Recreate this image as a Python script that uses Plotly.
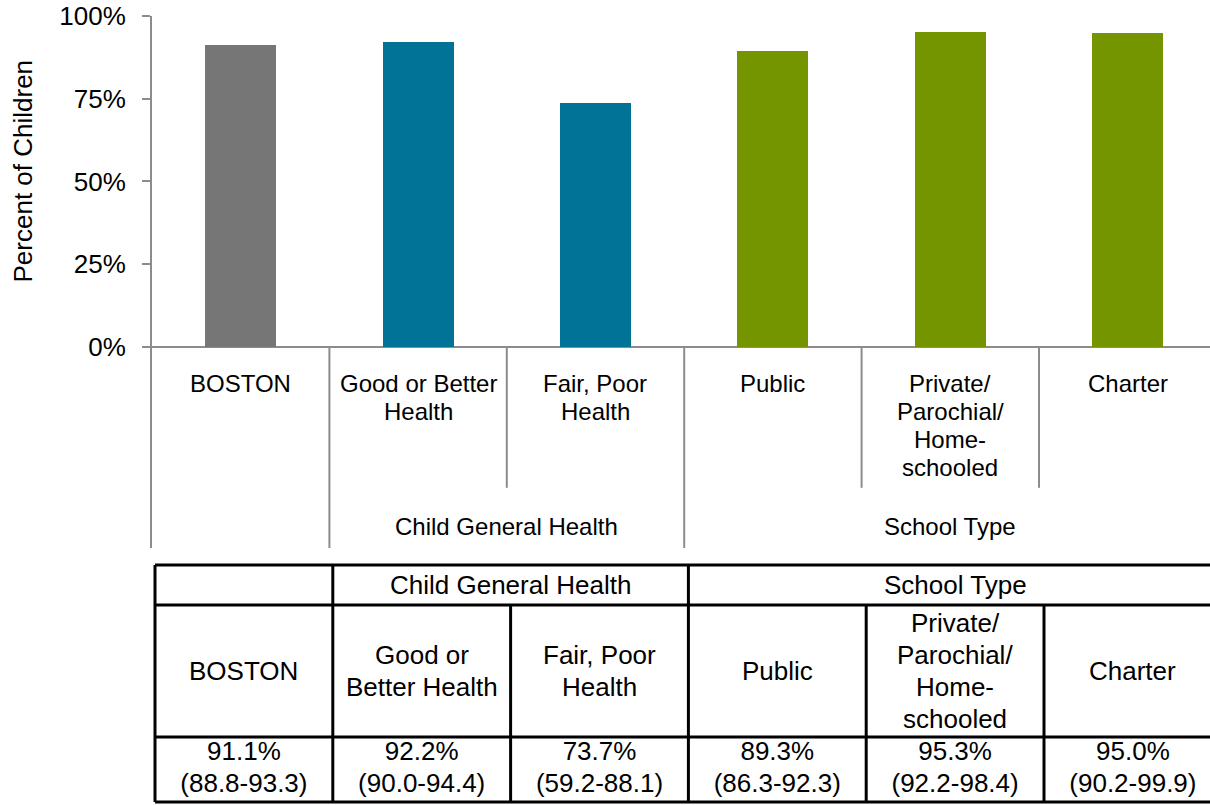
import plotly.graph_objects as go

# ---- data -------------------------------------------------------------
chart_labels = ["BOSTON", "Good or Better<br>Health", "Fair, Poor<br>Health", "Public",
                "Private/<br>Parochial/<br>Home-<br>schooled", "Charter"]
table_labels = ["BOSTON", "Good or<br>Better Health", "Fair, Poor<br>Health", "Public",
                "Private/<br>Parochial/<br>Home-<br>schooled", "Charter"]
groups = ["", "Child General Health", "Child General Health",
          "School Type", "School Type", "School Type"]
percent = [91.1, 92.2, 73.7, 89.3, 95.3, 95.0]
ci_low = [88.8, 90.0, 59.2, 86.3, 92.2, 90.2]
ci_high = [93.3, 94.4, 88.1, 92.3, 98.4, 99.9]
y_ticks = [0, 25, 50, 75, 100]
y_tick_text = ["0%", "25%", "50%", "75%", "100%"]

# ---- styling ----------------------------------------------------------
W, H = 1210, 805
FONT = "Liberation Sans, Arial, sans-serif"
AXIS_GREY = "#8c8c8c"
BLACK = "#000000"
group_colors = {"": "#767676", "Child General Health": "#007396", "School Type": "#759500"}

# main plot: y axis runs below zero so the axis line continues down as the
# left divider of the category label area
Y_MIN, Y_MAX = -60.8, 100
PX_PER_UNIT = (548 - 16) / (Y_MAX - Y_MIN)
SHORT_DIV = -42.6          # end of dividers between categories in one group
CAT_LABEL_Y = -11.2        # centre of the first label line
CAT_LINE_STEP = 28 / PX_PER_UNIT
GROUP_LABEL_Y = -54.4
X_RANGE = [-0.5, 5.464]

# table geometry (x2 units = columns, y2 units = pixels from the table area top)
TABLE_TOP = 7
ROW_HEIGHTS = [40, 132, 65]
TABLE_LINE_STEP = 32
row_edges = [TABLE_TOP]
for h in ROW_HEIGHTS:
    row_edges.append(row_edges[-1] + h)
row_mid = [(row_edges[i] + row_edges[i + 1]) / 2 for i in range(3)]

n = len(percent)
xs = list(range(n))

# contiguous runs of the group list
runs = []
start = 0
for i in range(1, n + 1):
    if i == n or groups[i] != groups[start]:
        runs.append((start, i - 1, groups[start]))
        start = i

fig = go.Figure()
fig.add_trace(go.Bar(
    x=xs, y=percent, width=0.4,
    marker=dict(color=[group_colors[g] for g in groups], line=dict(width=0)),
    hoverinfo="skip",
))

# table values: estimate on the first line, confidence interval below
table_font = dict(family=FONT, size=26, color=BLACK)
fig.add_trace(go.Scatter(
    x=xs, y=[row_mid[2] - TABLE_LINE_STEP / 2] * n, xaxis="x2", yaxis="y2", mode="text",
    text=[f"{p:.1f}%" for p in percent], textposition="middle center",
    textfont=table_font, hoverinfo="skip", cliponaxis=False,
))
fig.add_trace(go.Scatter(
    x=xs, y=[row_mid[2] + TABLE_LINE_STEP / 2] * n, xaxis="x2", yaxis="y2", mode="text",
    text=[f"({lo:.1f}-{hi:.1f})" for lo, hi in zip(ci_low, ci_high)],
    textposition="middle center", textfont=table_font, hoverinfo="skip", cliponaxis=False,
))

shapes = []
annotations = []


def text_lines(label, xref, yref, x, y_first, step, size):
    for j, line in enumerate(label.split("<br>")):
        annotations.append(dict(xref=xref, yref=yref, x=x, y=y_first + j * step, text=line,
                                showarrow=False, xanchor="center", yanchor="middle",
                                font=dict(family=FONT, size=size, color=BLACK)))


# category dividers under the axis
group_bounds = {r[1] for r in runs}
for k in range(n):
    y_end = Y_MIN if k in group_bounds else SHORT_DIV
    shapes.append(dict(type="line", xref="x", yref="y", x0=k + 0.5, x1=k + 0.5,
                       y0=0, y1=y_end, line=dict(color=AXIS_GREY, width=2)))

for k, lab in enumerate(chart_labels):
    text_lines(lab, "x", "y", k, CAT_LABEL_Y, -CAT_LINE_STEP, 24)

for a, b, g in runs:
    if g:
        text_lines(g, "x", "y", (a + b) / 2, GROUP_LABEL_Y, 0, 24)

annotations.append(dict(xref="paper", yref="y", x=23 / W, y=53, text="Percent of Children",
                        textangle=-90, showarrow=False, xanchor="center", yanchor="middle",
                        font=dict(family=FONT, size=26, color=BLACK)))

# ---- table ------------------------------------------------------------
TL = dict(color=BLACK, width=3)
for e in row_edges:
    shapes.append(dict(type="line", xref="x2", yref="y2", x0=-0.5, x1=n - 0.5,
                       y0=e, y1=e, line=TL))
# header row: dividers only between groups
for a, b, g in runs:
    shapes.append(dict(type="line", xref="x2", yref="y2", x0=a - 0.5, x1=a - 0.5,
                       y0=row_edges[0], y1=row_edges[1], line=TL))
    if g:
        text_lines(g, "x2", "y2", (a + b) / 2, row_mid[0], 0, 26)
shapes.append(dict(type="line", xref="x2", yref="y2", x0=n - 0.5, x1=n - 0.5,
                   y0=row_edges[0], y1=row_edges[1], line=TL))
for k in range(n + 1):
    shapes.append(dict(type="line", xref="x2", yref="y2", x0=k - 0.5, x1=k - 0.5,
                       y0=row_edges[1], y1=row_edges[3], line=TL))
for k, lab in enumerate(table_labels):
    m = len(lab.split("<br>"))
    text_lines(lab, "x2", "y2", k, row_mid[1] - (m - 1) / 2 * TABLE_LINE_STEP,
               TABLE_LINE_STEP, 26)

fig.update_layout(
    width=W, height=H,
    margin=dict(l=0, r=0, t=0, b=0, pad=0),
    paper_bgcolor="white", plot_bgcolor="white",
    showlegend=False,
    font=dict(family=FONT, color=BLACK),
    xaxis=dict(domain=[152 / W, 1], range=X_RANGE, showticklabels=False, ticks="",
               showline=False, showgrid=False, zeroline=False, fixedrange=True,
               automargin=False),
    yaxis=dict(domain=[1 - 548 / H, 1 - 16 / H], range=[Y_MIN, Y_MAX],
               tickvals=y_ticks, ticktext=y_tick_text, ticks="outside", ticklen=8,
               tickwidth=2, tickcolor=AXIS_GREY, showline=True, linecolor=AXIS_GREY,
               linewidth=2, showgrid=False, zeroline=True, zerolinecolor=AXIS_GREY,
               zerolinewidth=2, ticklabelstandoff=11, automargin=False,
               tickfont=dict(family=FONT, size=26, color=BLACK), fixedrange=True),
    xaxis2=dict(domain=[150 / W, 1], range=[-0.5 - 5 / 177.8, -0.5 + (W - 155) / 177.8],
                anchor="y2", visible=False, fixedrange=True, automargin=False),
    yaxis2=dict(domain=[0, 1 - 558 / H], range=[H - 558, 0], anchor="x2",
                visible=False, fixedrange=True, automargin=False),
    shapes=shapes,
    annotations=annotations,
    bargap=0,
)

fig.write_html("out.html", config={"displayModeBar": False})
